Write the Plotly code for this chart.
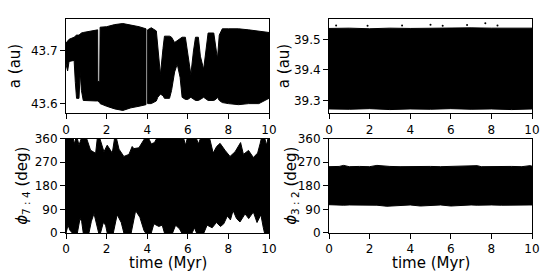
import plotly.graph_objects as go

# ---------------- data (envelopes) ----------------
# Top-left: semi-major axis (7:4 object), envelope of the dense scatter; None = gap
time_a74 = [0.00, 0.08, 0.15, 0.40, 0.46, 0.52, 0.64, 0.70, 0.76, 0.85, 1.20, 1.50, 1.56, 1.57, 1.66, 1.68,
            2.00, 2.40, 2.80, 3.20, 3.60, 3.94, None,
            4.02, 4.20, 4.45, 4.52, 4.65, 4.78, 4.85, 5.10, 5.20, 5.35, 5.48, 5.62, 5.72, 5.88,
            6.00, 6.15, 6.28, 6.38, 6.52, 6.62, 6.78, 6.92, 7.00, 7.28, 7.38, 7.46, 7.55, 7.70,
            8.00, 8.50, 9.00, 9.50, 10.00]
a74_low = [43.675, 43.662, 43.680, 43.682, 43.640, 43.610, 43.610, 43.660, 43.625, 43.606, 43.605, 43.605, 43.605, 43.605, 43.602, 43.600,
           43.595, 43.590, 43.587, 43.592, 43.595, 43.598, None,
           43.600, 43.600, 43.605, 43.612, 43.618, 43.615, 43.610, 43.610, 43.625, 43.660, 43.675, 43.650, 43.612, 43.608,
           43.608, 43.612, 43.608, 43.606, 43.606, 43.608, 43.612, 43.608, 43.606, 43.606, 43.608, 43.612, 43.606, 43.602,
           43.600, 43.598, 43.600, 43.600, 43.610]
a74_high = [43.715, 43.718, 43.722, 43.726, 43.728, 43.730, 43.730, 43.732, 43.734, 43.735, 43.738, 43.740, 43.740, 43.642, 43.642, 43.745,
            43.746, 43.750, 43.752, 43.749, 43.746, 43.742, None,
            43.740, 43.744, 43.738, 43.705, 43.655, 43.705, 43.728, 43.728, 43.726, 43.716, 43.720, 43.724, 43.726, 43.726,
            43.690, 43.655, 43.700, 43.726, 43.726, 43.690, 43.665, 43.710, 43.734, 43.734, 43.700, 43.685, 43.730, 43.742,
            43.742, 43.742, 43.740, 43.738, 43.735]

# Top-right: semi-major axis (3:2 object)
time_a32 = [0, 1, 2, 3, 4, 5, 6, 7, 8, 9, 10]
a32_low = [39.272, 39.271, 39.273, 39.270, 39.272, 39.271, 39.273, 39.271, 39.272, 39.270, 39.272]
a32_high = [39.536, 39.537, 39.535, 39.537, 39.536, 39.537, 39.536, 39.538, 39.537, 39.536, 39.537]
time_a32_outliers = [0.35, 1.9, 3.6, 5.0, 5.6, 6.8, 7.7, 8.3]
a32_outliers = [39.546, 39.545, 39.546, 39.548, 39.545, 39.547, 39.553, 39.546]

# Bottom-left: resonant angle phi_7:4 (deg), lower / upper edges of the filled region
time_phi74_low = [0.00, 0.10, 0.20, 0.31, 0.56, 0.69, 0.77, 0.85, 1.13, 1.25, 1.38, 1.54, 1.61, 1.70, 1.84, 1.95,
                  2.03, 2.33, 2.52, 2.72, 2.85, 3.21, 3.43, 3.64, 3.84, 3.92, 4.20, 4.33, 4.57, 4.74, 4.85,
                  5.25, 5.40, 5.60, 5.70, 6.21, 6.33, 6.43, 6.79, 6.95, 7.20, 7.41, 7.61, 7.77, 7.95, 8.10,
                  8.23, 8.40, 8.57, 8.82, 9.00, 9.23, 9.41, 9.60, 9.72, 9.78, 10.00]
phi74_low = [0, 30, 10, 0, 0, 55, 45, 0, 0, 45, 74, 25, 0, 0, 40, 30,
             0, 0, 70, 40, 0, 0, 85, 60, 10, 0, 0, 35, 25, 30, 0,
             0, 30, 15, 0, 0, 20, 0, 0, 30, 20, 40, 25, 35, 65, 50,
             86, 55, 42, 73, 55, 80, 40, 70, 20, 0, 0]
time_phi74_high = [0.00, 0.36, 0.41, 0.48, 0.56, 0.64, 0.75, 1.02, 1.21, 1.46, 1.54, 1.67, 1.87, 2.03, 2.28, 2.39,
                   2.49, 2.61, 2.85, 3.10, 3.26, 3.34, 3.59, 3.80, 3.87, 4.08, 4.20, 4.36, 4.46, 5.80, 5.89,
                   5.97, 6.43, 6.52, 6.62, 7.08, 7.25, 7.42, 7.59, 7.83, 8.08, 8.33, 8.50, 8.60, 8.74, 8.99,
                   9.23, 9.44, 9.56, 9.62, 9.80, 9.87, 9.95, 10.00]
phi74_high = [360, 360, 340, 360, 360, 335, 360, 360, 316, 304, 360, 360, 310, 335, 305, 360,
              360, 320, 292, 300, 330, 322, 325, 350, 360, 360, 340, 345, 360, 360, 335,
              360, 360, 340, 360, 360, 305, 330, 342, 316, 292, 310, 335, 345, 300, 315,
              288, 305, 340, 360, 360, 335, 360, 360]

# Bottom-right: resonant angle phi_3:2 (deg)
time_phi32 = [0, 0.5, 0.72, 1, 1.5, 2, 2.36, 2.85, 3, 3.5, 4, 4.5, 5, 5.5, 6, 6.5, 7, 7.3, 7.5, 8, 8.5, 9, 9.5, 9.9, 10]
phi32_low = [108, 107, 106, 107, 108, 107, 106, 102, 105, 106, 107, 103, 106, 107, 103, 106, 107, 106, 105, 107, 106, 107, 106, 107, 107]
phi32_high = [253, 254, 258, 253, 254, 253, 258, 253, 254, 253, 254, 253, 254, 253, 254, 253, 254, 257, 253, 254, 253, 254, 253, 257, 255]

x_ticks = [0, 2, 4, 6, 8, 10]
a74_ticks = [43.6, 43.7]
a32_ticks = [39.3, 39.4, 39.5]
phi_ticks = [0, 90, 180, 270, 360]

# ---------------- figure ----------------
FONT = "DejaVu Sans"
W, H = 554, 277
ML, MR, MT, MB = 66, 22, 13, 44
PW, PH = W - ML - MR, H - MT - MB


def px_x(p):
    return (p - ML) / PW


def px_y(p):
    return (H - MB - p) / PH


def band(t, lo, hi, xa, ya):
    """Split at None and draw each segment as a filled polygon."""
    out = []
    segs, cur = [], []
    for ti, l, h in zip(t, lo, hi):
        if ti is None:
            if cur:
                segs.append(cur)
            cur = []
        else:
            cur.append((ti, l, h))
    if cur:
        segs.append(cur)
    for s in segs:
        xs = [p[0] for p in s] + [p[0] for p in reversed(s)]
        ys = [p[2] for p in s] + [p[1] for p in reversed(s)]
        out.append(go.Scatter(x=xs + [xs[0]], y=ys + [ys[0]], mode="lines", fill="toself",
                              fillcolor="black", line=dict(color="black", width=1),
                              xaxis=xa, yaxis=ya, hoverinfo="skip", showlegend=False))
    return out


def band2(tl, lo, th, hi, xa, ya):
    xs = list(th) + list(reversed(tl))
    ys = list(hi) + list(reversed(lo))
    return [go.Scatter(x=xs + [xs[0]], y=ys + [ys[0]], mode="lines", fill="toself",
                       fillcolor="black", line=dict(color="black", width=1),
                       xaxis=xa, yaxis=ya, hoverinfo="skip", showlegend=False)]


traces = []
traces += band(time_a74, a74_low, a74_high, "x", "y")
traces += band(time_a32, a32_low, a32_high, "x2", "y2")
traces.append(go.Scatter(x=time_a32_outliers, y=a32_outliers, mode="markers",
                         marker=dict(color="black", size=2), xaxis="x2", yaxis="y2",
                         hoverinfo="skip", showlegend=False))
traces += band2(time_phi74_low, phi74_low, time_phi74_high, phi74_high, "x3", "y3")
traces += band(time_phi32, phi32_low, phi32_high, "x4", "y4")

fig = go.Figure(data=traces)

dl = [0, px_x(269)]
dr = [px_x(329), 1]
dt = [px_y(110), 1]
db = [0, px_y(136)]

axis_common = dict(showline=True, linecolor="black", linewidth=1, mirror=True,
                   ticks="outside", ticklen=5, tickwidth=1, tickcolor="black",
                   showgrid=False, zeroline=False,
                   tickfont=dict(family=FONT, size=12, color="black"))

fig.update_layout(
    width=W, height=H,
    margin=dict(l=ML, r=MR, t=MT, b=MB, pad=0),
    paper_bgcolor="white", plot_bgcolor="white",
    showlegend=False,
    font=dict(family=FONT, color="black"),
    xaxis=dict(domain=dl, anchor="y", range=[0, 10], tickvals=x_ticks, **axis_common),
    yaxis=dict(domain=dt, anchor="x", range=[43.5815, 43.7606], tickvals=a74_ticks,
               ticktext=[f"{v:.1f}" for v in a74_ticks], **axis_common),
    xaxis2=dict(domain=dr, anchor="y2", range=[0, 10], tickvals=x_ticks, **axis_common),
    yaxis2=dict(domain=dt, anchor="x2", range=[39.2576, 39.567], tickvals=a32_ticks,
                ticktext=[f"{v:.1f}" for v in a32_ticks], **axis_common),
    xaxis3=dict(domain=dl, anchor="y3", range=[0, 10], tickvals=x_ticks, **axis_common),
    yaxis3=dict(domain=db, anchor="x3", range=[0, 360], tickvals=phi_ticks, **axis_common),
    xaxis4=dict(domain=dr, anchor="y4", range=[0, 10], tickvals=x_ticks, **axis_common),
    yaxis4=dict(domain=db, anchor="x4", range=[0, 360], tickvals=phi_ticks, **axis_common),
)

ann_font = dict(family=FONT, size=15, color="black")
annotations = [
    dict(text="a (au)", x=px_x(15), y=px_y(61.5), textangle=-90),
    dict(text="a (au)", x=px_x(284), y=px_y(61.5), textangle=-90),
    dict(text="<i>ϕ</i><sub>7 : 4</sub> (deg)", x=px_x(23), y=px_y(184.5), textangle=-90),
    dict(text="<i>ϕ</i><sub>3 : 2</sub> (deg)", x=px_x(292), y=px_y(184.5), textangle=-90),
    dict(text="time (Myr)", x=px_x(167.5), y=px_y(264), textangle=0),
    dict(text="time (Myr)", x=px_x(430.5), y=px_y(264), textangle=0),
]
for a in annotations:
    a.update(xref="paper", yref="paper", xanchor="center", yanchor="middle",
             showarrow=False, font=ann_font)
fig.update_layout(annotations=annotations)

fig.write_html("out.html", config={"displayModeBar": False})

# remove the browser's default 8px body margin so the figure sits at the page origin
with open("out.html", "r", encoding="utf-8") as f:
    html = f.read()
html = html.replace("<body>", '<body style="margin:0;padding:0;">', 1)
with open("out.html", "w", encoding="utf-8") as f:
    f.write(html)
